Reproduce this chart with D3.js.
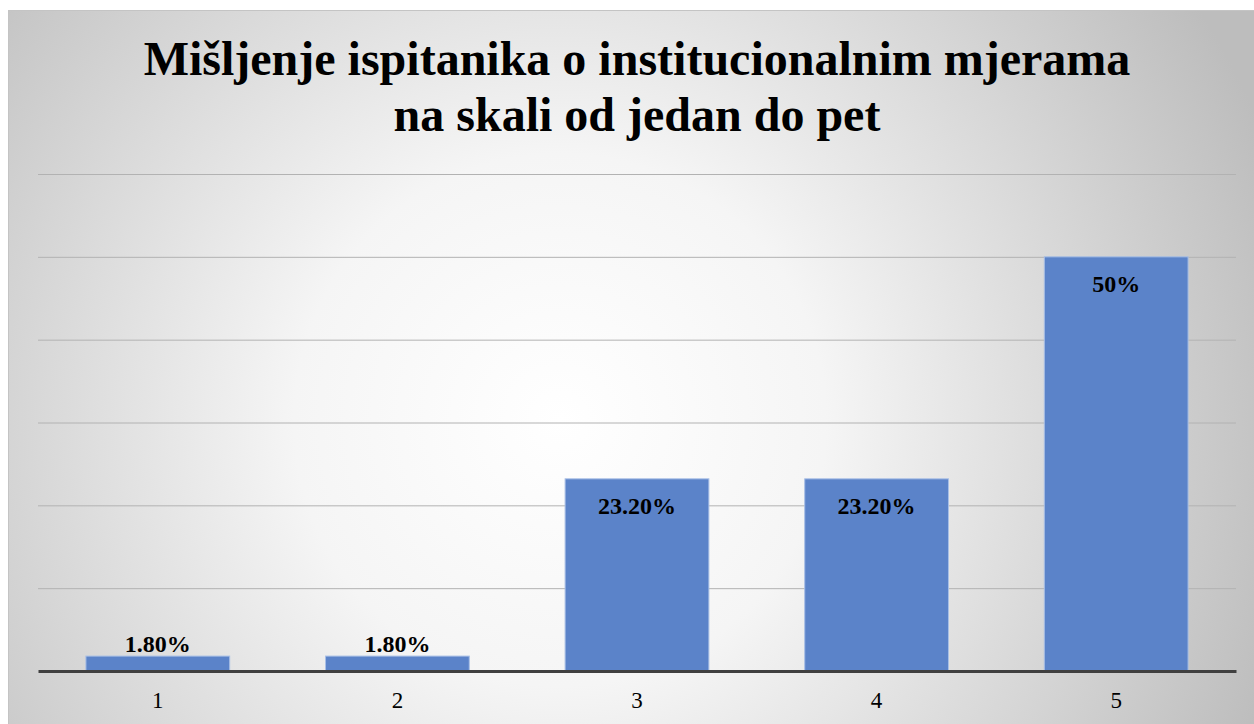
<!DOCTYPE html>
<html>
<head>
<meta charset="utf-8">
<script src="https://cdn.jsdelivr.net/npm/d3@7.9.0/dist/d3.min.js"></script>
<style>
  html, body { margin: 0; padding: 0; background: #fff; overflow: hidden; }
  svg { display: block; }
</style>
</head>
<body>
<div id="chart"></div>
<script>
const categories = ['1', '2', '3', '4', '5'];
const values = [1.8, 1.8, 23.2, 23.2, 50];
const valueLabels = ['1.80%', '1.80%', '23.20%', '23.20%', '50%'];
const yTicks = [0, 10, 20, 30, 40, 50, 60];
const titleLines = ['Mišljenje ispitanika o institucionalnim mjerama', 'na skali od jedan do pet'];

const width = 1254;
const height = 724;
const plot = { left: 38, right: 1236, top: 174, bottom: 671 };
const serif = '"Liberation Serif", "Times New Roman", serif';

const svg = d3.select('#chart')
  .append('svg')
  .attr('width', width)
  .attr('height', height);

const defs = svg.append('defs');
const bg = defs.append('radialGradient')
  .attr('id', 'bg')
  .attr('gradientUnits', 'userSpaceOnUse')
  .attr('cx', 560).attr('cy', 420).attr('r', 760);
bg.append('stop').attr('offset', '0%').attr('stop-color', '#ffffff');
bg.append('stop').attr('offset', '35%').attr('stop-color', '#f5f5f5');
bg.append('stop').attr('offset', '100%').attr('stop-color', '#bdbdbd');

// chart area
svg.append('rect')
  .attr('x', 8.5).attr('y', 10.5)
  .attr('width', width).attr('height', height)
  .attr('fill', 'url(#bg)')
  .attr('stroke', '#c4c4c4')
  .attr('stroke-width', 1);

const x = d3.scaleBand()
  .domain(categories)
  .range([plot.left, plot.right])
  .paddingInner(0.4)
  .paddingOuter(0.2);

const y = d3.scaleLinear()
  .domain([0, 60])
  .range([plot.bottom, plot.top]);

// gridlines
svg.append('g')
  .attr('class', 'grid')
  .attr('transform', `translate(${plot.left},0)`)
  .call(d3.axisLeft(y).tickValues(yTicks.slice(1)).tickFormat('').tickSize(-(plot.right - plot.left)))
  .call(g => g.select('.domain').remove())
  .call(g => g.selectAll('line').attr('stroke', '#b2b2b2').attr('stroke-width', 1));

// bars
svg.append('g')
  .selectAll('rect')
  .data(values)
  .join('rect')
  .attr('x', (d, i) => x(categories[i]))
  .attr('y', d => y(d))
  .attr('width', x.bandwidth())
  .attr('height', d => y(0) - y(d))
  .attr('fill', '#5b83c9')
  .attr('stroke', '#a8bfe6')
  .attr('stroke-width', 1);

// x axis
const xAxis = svg.append('g')
  .attr('transform', `translate(0,${plot.bottom})`)
  .call(d3.axisBottom(x).tickSize(0).tickPadding(21));
xAxis.select('.domain').attr('stroke', '#404040').attr('stroke-width', 3);
xAxis.selectAll('text')
  .attr('font-family', serif)
  .attr('font-size', 23)
  .attr('fill', '#000');

// value labels
svg.append('g')
  .selectAll('text')
  .data(values)
  .join('text')
  .attr('x', (d, i) => x(categories[i]) + x.bandwidth() / 2)
  .attr('y', d => d < 10 ? y(d) - 4 : y(d) + 35)
  .attr('text-anchor', 'middle')
  .attr('font-family', serif)
  .attr('font-weight', 'bold')
  .attr('font-size', 24)
  .attr('fill', '#000')
  .text((d, i) => valueLabels[i]);

// title
svg.append('g')
  .selectAll('text')
  .data(titleLines)
  .join('text')
  .attr('x', 637)
  .attr('y', (d, i) => 75 + i * 56)
  .attr('text-anchor', 'middle')
  .attr('font-family', serif)
  .attr('font-weight', 'bold')
  .attr('font-size', 48)
  .attr('fill', '#000')
  .text(d => d);
</script>
</body>
</html>
